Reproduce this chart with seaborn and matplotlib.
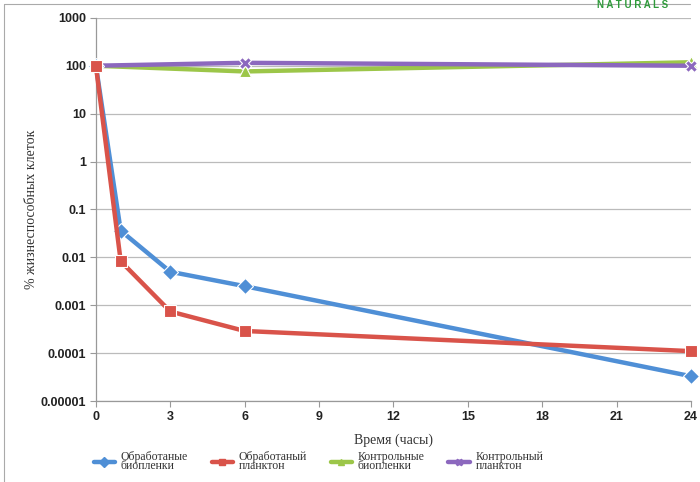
import matplotlib
matplotlib.use("Agg")
import matplotlib.pyplot as plt
import seaborn as sns
import pandas as pd
from matplotlib.lines import Line2D

hours_treated = [0, 1, 3, 6, 24]
treated_biofilm = [100, 0.036, 0.0050, 0.0025, 0.000033]
treated_plankton = [100, 0.0083, 0.00074, 0.00029, 0.00011]
hours_control = [0, 6, 24]
control_biofilm = [100, 76, 118]
control_plankton = [100, 115, 100]

series_names = ["Обработаные\nбиопленки", "Обработаный\nпланктон",
                "Контрольные\nбиопленки", "Контрольный\nпланктон"]
colors = ["#4F8FD6", "#D9534A", "#9CC649", "#8C68BE"]
markers = ["D", "s", "^", "X"]

yticks = [0.00001, 0.0001, 0.001, 0.01, 0.1, 1, 10, 100, 1000]
ytick_labels = ["0.00001", "0.0001", "0.001", "0.01", "0.1", "1", "10", "100", "1000"]
xticks = [0, 3, 6, 9, 12, 15, 18, 21, 24]

frames = []
for name, xs, ys in [(series_names[0], hours_treated, treated_biofilm),
                     (series_names[1], hours_treated, treated_plankton),
                     (series_names[2], hours_control, control_biofilm),
                     (series_names[3], hours_control, control_plankton)]:
    frames.append(pd.DataFrame({"hours": xs, "value": ys, "series": name}))
df = pd.concat(frames, ignore_index=True)

sns.set_style("white")
plt.rcParams['font.family'] = ['Liberation Sans', 'DejaVu Sans']

fig = plt.figure(figsize=(7.0, 4.82), dpi=100)
ax = fig.add_axes([0.137, 0.168, 0.850, 0.795])

sns.lineplot(data=df, x="hours", y="value", hue="series", style="series",
             hue_order=series_names, style_order=series_names,
             palette=dict(zip(series_names, colors)),
             markers=dict(zip(series_names, markers)),
             dashes=False, linewidth=3.2, markersize=8,
             markeredgewidth=0.8, ax=ax, legend=False)
zorders = [3.2, 3.6, 3.0, 3.1]
for ln, z in zip(ax.get_lines(), zorders):
    ln.set_clip_on(False)
    ln.set_zorder(z)

ax.set_yscale("log")
ax.set_ylim(0.00001, 1000)
ax.set_xlim(0, 24)
ax.set_yticks(yticks)
ax.set_yticklabels(ytick_labels)
ax.minorticks_off()
ax.set_xticks(xticks)
ax.set_xticklabels([str(t) for t in xticks])
for lab in ax.get_xticklabels() + ax.get_yticklabels():
    lab.set_fontweight("bold")
    lab.set_fontsize(9)
    lab.set_color("#222222")

ax.yaxis.grid(True, color="#BBBBBB", linewidth=0.9)
ax.xaxis.grid(False)
for s in ["top", "right"]:
    ax.spines[s].set_visible(False)
for s in ["left", "bottom"]:
    ax.spines[s].set_color("#999999")
    ax.spines[s].set_linewidth(0.9)
ax.tick_params(axis="both", which="major", length=4, color="#999999",
               direction="out", left=True, bottom=True, pad=3)

ax.set_xlabel("Время (часы)", family=["Liberation Serif"], fontsize=10,
              color="#333333", labelpad=8)
ax.set_ylabel("% жизнеспособных клеток", family=["Liberation Serif"],
              fontsize=10, color="#333333", labelpad=2)

handles = [Line2D([0], [0], color=c, marker=m, linewidth=3.2, markersize=5)
           for c, m in zip(colors, markers)]
leg = fig.legend(handles, series_names, loc="center", ncol=4,
                 bbox_to_anchor=(0.455, 0.042), frameon=False,
                 prop={"family": "Liberation Serif", "size": 8.5},
                 handlelength=1.8, columnspacing=2.0, labelspacing=0.2,
                 handletextpad=0.5)
for t in leg.get_texts():
    t.set_linespacing(0.7)
    t.set_color("#333333")

# slide frame
fig.add_artist(Line2D([0.005, 0.005], [0.0, 0.992], transform=fig.transFigure,
                      color="#AAAAAA", linewidth=0.8))
fig.add_artist(Line2D([0.005, 0.985], [0.992, 0.992], transform=fig.transFigure,
                      color="#AAAAAA", linewidth=0.8))
fig.text(0.955, 0.9995, "N A T U R A L S", color="#2E9A3A", fontsize=7,
         fontweight="bold", ha="right", va="top")

fig.savefig("out.png", dpi=100, facecolor="white")
